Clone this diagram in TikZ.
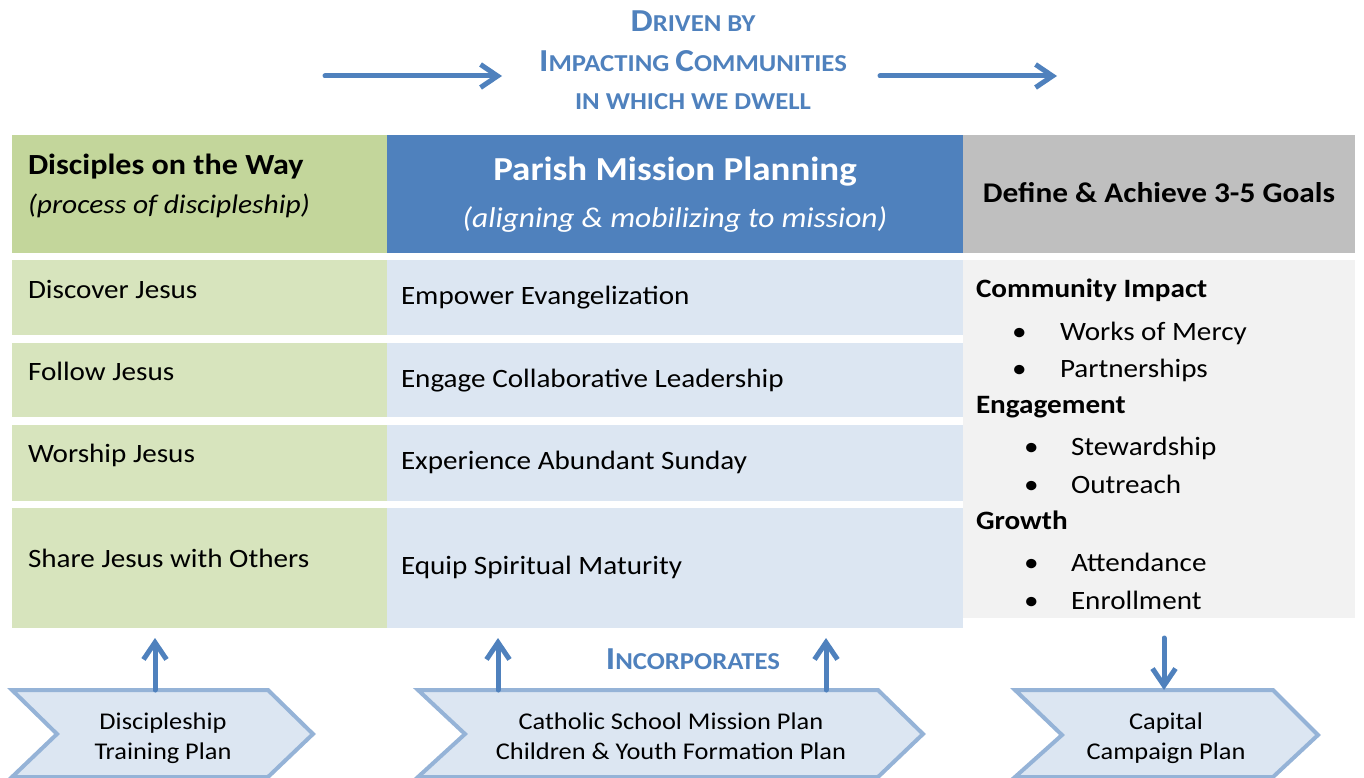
\documentclass[tikz,border=0pt]{standalone}
\usepackage{fontspec}
\setmainfont{Carlito}[FakeStretch=1.1]
\usetikzlibrary{arrows.meta}
\definecolor{hdrgreen}{HTML}{C3D69B}
\definecolor{rowgreen}{HTML}{D7E4BD}
\definecolor{hdrblue}{HTML}{4F81BD}
\definecolor{rowblue}{HTML}{DCE6F2}
\definecolor{hdrgray}{HTML}{BFBFBF}
\definecolor{panelgray}{HTML}{F2F2F2}
\definecolor{chevfill}{HTML}{DCE6F2}
\definecolor{chevline}{HTML}{95B3D7}
\definecolor{accent}{HTML}{4F81BD}
\newcommand{\fsz}[1]{\fontsize{#1}{#1}\selectfont}
\newcommand{\mysc}[2]{{\fsz{32}#1}{\fsz{24.3}#2}}
\begin{document}
\begin{tikzpicture}[x=1pt,y=-1pt,
  cell/.style={inner sep=0pt, outer sep=0pt, anchor=north west},
  txt/.style={inner sep=0pt, outer sep=0pt, anchor=base west, font=\fsz{26.5}},
  btxt/.style={txt, font=\fsz{26.5}\bfseries},
  ctxt/.style={inner sep=0pt, outer sep=0pt, anchor=base},
  scbl/.style={ctxt, text=accent, font=\fsz{24.3}\bfseries},
  chtxt/.style={ctxt, font=\fsz{24}},
  flow/.style={draw=accent, line width=5pt, -{Straight Barb[length=17pt,width=23pt]}, line cap=round, line join=round},
  chev/.style={fill=chevfill, draw=chevline, line width=4pt, line join=miter},
]
\useasboundingbox (0,0) rectangle (1364,778);

% header cells
\node[cell, fill=hdrgreen, minimum width=375pt, minimum height=118pt] (hg) at (12,135) {};
\node[cell, fill=hdrblue, minimum width=576pt, minimum height=118pt] (hb) at (387,135) {};
\node[cell, fill=hdrgray, minimum width=392pt, minimum height=118pt] (hy) at (963,135) {};

% row cells
\node[cell, fill=rowgreen, minimum width=375pt, minimum height=75pt] (g1) at (12,260) {};
\node[cell, fill=rowgreen, minimum width=375pt, minimum height=74pt] (g2) at (12,343) {};
\node[cell, fill=rowgreen, minimum width=375pt, minimum height=76pt] (g3) at (12,425) {};
\node[cell, fill=rowgreen, minimum width=375pt, minimum height=120pt] (g4) at (12,508) {};
\node[cell, fill=rowblue, minimum width=576pt, minimum height=75pt] (b1) at (387,260) {};
\node[cell, fill=rowblue, minimum width=576pt, minimum height=74pt] (b2) at (387,343) {};
\node[cell, fill=rowblue, minimum width=576pt, minimum height=76pt] (b3) at (387,425) {};
\node[cell, fill=rowblue, minimum width=576pt, minimum height=120pt] (b4) at (387,508) {};
\node[cell, fill=panelgray, minimum width=392pt, minimum height=358pt] (pn) at (963,260) {};

% top labels
\node[scbl] (t1) at (693,32) {\mysc{D}{RIVEN BY}};
\node[scbl] (t2) at (693,72) {\mysc{I}{MPACTING} \mysc{C}{OMMUNITIES}};
\node[scbl] (t3) at (693,110) {IN WHICH WE DWELL};
\coordinate (la0) at (325,76); \coordinate (la1) at (502,76);
\coordinate (ra0) at (880,76); \coordinate (ra1) at (1057,76);
\draw[flow] (la0) -- (la1);
\draw[flow] (ra0) -- (ra1);

% header texts
\node[btxt, font=\fsz{29.2}\bfseries] (hgt1) at (28,175) {Disciples on the Way};
\node[txt, font=\fsz{26.8}\itshape] (hgt2) at (28,213) {(process of discipleship)};
\node[ctxt, text=white, font=\fsz{33.6}\bfseries] (hbt1) at (675,181) {Parish Mission Planning};
\node[ctxt, text=white, font=\fsz{28.6}\itshape] (hbt2) at (675,227) {(aligning \& mobilizing to mission)};
\node[ctxt, font=\fsz{28.5}\bfseries] (hyt) at (1159,202) {Define \& Achieve 3-5 Goals};

% row texts
\node[txt] (g1t) at (28,298) {Discover Jesus};
\node[txt] (g2t) at (28,380) {Follow Jesus};
\node[txt] (g3t) at (28,462) {Worship Jesus};
\node[txt] (g4t) at (28,567) {Share Jesus with Others};
\node[txt] (b1t) at (401,304) {Empower Evangelization};
\node[txt] (b2t) at (401,387) {Engage Collaborative Leadership};
\node[txt] (b3t) at (401,469) {Experience Abundant Sunday};
\node[txt] (b4t) at (401,574) {Equip Spiritual Maturity};

% right panel
\node[btxt] (p1) at (976,297) {Community Impact};
\node[txt] (p1a) at (1012,340) {•};
\node[txt] (p1at) at (1060,340) {Works of Mercy};
\node[txt] (p1b) at (1012,377) {•};
\node[txt] (p1bt) at (1060,377) {Partnerships};
\node[btxt] (p2) at (976,413) {Engagement};
\node[txt] (p2a) at (1024,455) {•};
\node[txt] (p2at) at (1071,455) {Stewardship};
\node[txt] (p2b) at (1024,493) {•};
\node[txt] (p2bt) at (1071,493) {Outreach};
\node[btxt] (p3) at (976,529) {Growth};
\node[txt] (p3a) at (1024,571) {•};
\node[txt] (p3at) at (1071,571) {Attendance};
\node[txt] (p3b) at (1024,609) {•};
\node[txt] (p3bt) at (1071,609) {Enrollment};

% chevrons
\draw[chev] (12,690) -- (268,690) -- (313,734) -- (268,777) -- (12,777) -- (57,734) -- cycle;
\draw[chev] (418,690) -- (878,690) -- (923,734) -- (878,777) -- (418,777) -- (465,734) -- cycle;
\draw[chev] (1015,690) -- (1273,690) -- (1318,735) -- (1273,777) -- (1015,777) -- (1062,735) -- cycle;
\node[chtxt] (c1a) at (163,729) {Discipleship};
\node[chtxt] (c1b) at (163,759) {Training Plan};
\node[chtxt] (c2a) at (671,729) {Catholic School Mission Plan};
\node[chtxt] (c2b) at (671,759) {Children \& Youth Formation Plan};
\node[chtxt] (c3a) at (1166,729) {Capital};
\node[chtxt] (c3b) at (1166,759) {Campaign Plan};

\node[scbl] (inc) at (693,669) {\mysc{I}{NCORPORATES}};

% vertical arrows
\coordinate (cL) at (155,690); \coordinate (gL) at (155,638);
\coordinate (cM1) at (498,690); \coordinate (bM1) at (498,638);
\coordinate (cM2) at (826,690); \coordinate (bM2) at (826,638);
\coordinate (pD) at (1164,638); \coordinate (cR) at (1164,690);
\draw[flow] (cL) -- (gL);
\draw[flow] (cM1) -- (bM1);
\draw[flow] (cM2) -- (bM2);
\draw[flow] (pD) -- (cR);
\end{tikzpicture}
\end{document}
